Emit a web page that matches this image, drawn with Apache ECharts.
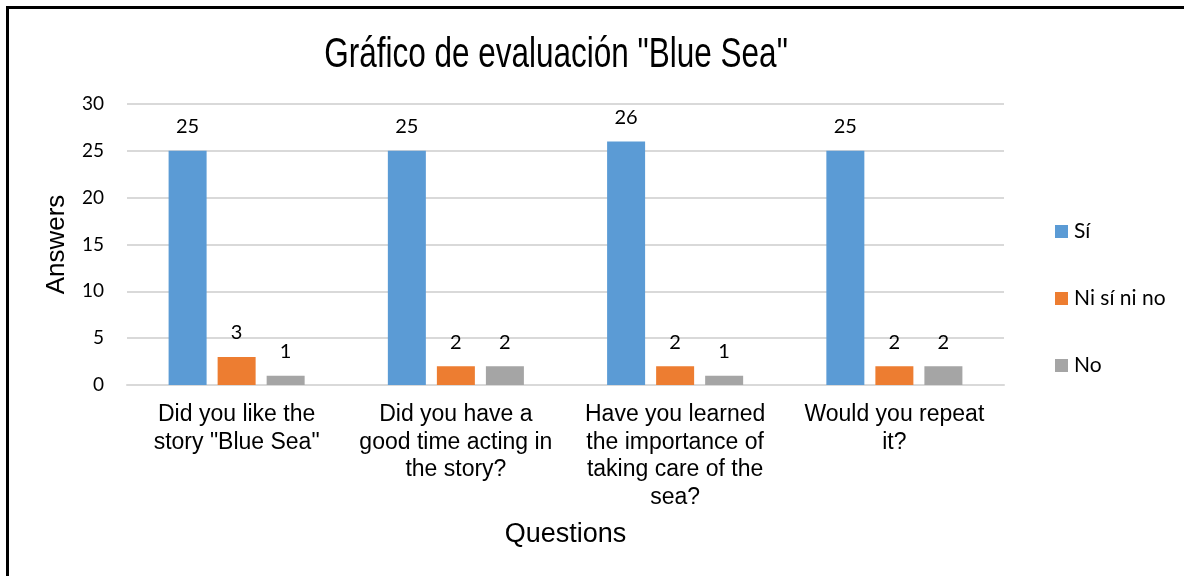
<!DOCTYPE html>
<html>
<head>
<meta charset="utf-8">
<script src="https://cdn.jsdelivr.net/npm/echarts@6/dist/echarts.min.js"></script>
<style>
html,body{margin:0;padding:0;background:#fff;}
#chart{width:1184px;height:576px;}
</style>
</head>
<body>
<div id="chart"></div>
<script>
const titleText = 'Gráfico de evaluación "Blue Sea"';
const categories = [
  'Did you like the\nstory "Blue Sea"',
  'Did you have a\ngood time acting in\nthe story?',
  'Have you learned\nthe importance of\ntaking care of the\nsea?',
  'Would you repeat\nit?'
];
const seriesNames = ['Sí', 'Ni sí ni no', 'No'];
const siValues = [25, 25, 26, 25];
const niValues = [3, 2, 2, 2];
const noValues = [1, 2, 1, 2];
const yAxisName = 'Answers';
const xAxisName = 'Questions';

const colors = ['#5B9BD5', '#ED7D31', '#A5A5A5'];
const numFont = 'Lato, "Open Sans", sans-serif';
const arial = '"Liberation Sans", Arial, sans-serif';

const chart = echarts.init(document.getElementById('chart'), null, {renderer: 'canvas'});

function barSeries(name, data, color) {
  return {
    name: name,
    type: 'bar',
    data: data,
    barWidth: 38,
    barGap: '29%',
    itemStyle: {color: color},
    label: {
      show: true,
      position: 'top',
      distance: 14,
      color: '#000',
      fontFamily: numFont,
      fontSize: 20
    },
    emphasis: {disabled: true}
  };
}

chart.setOption({
  animation: false,
  graphic: [{
    type: 'rect',
    silent: true,
    z: 100,
    shape: {x: 7.5, y: 7.5, width: 1300, height: 700},
    style: {fill: 'none', stroke: '#000', lineWidth: 3}
  }, {
    type: 'text',
    silent: true,
    x: 556,
    y: 76.5,
    scaleX: 0.75,
    style: {
      text: titleText,
      x: 0,
      y: 0,
      font: '42px "Liberation Sans", Arial, sans-serif',
      fill: '#000',
      textAlign: 'center',
      textVerticalAlign: 'bottom',
      align: 'center',
      verticalAlign: 'bottom'
    }
  }],
  legend: {
    orient: 'vertical',
    left: 1055,
    top: 221,
    padding: 0,
    itemWidth: 13,
    itemHeight: 13,
    itemGap: 46,
    icon: 'rect',
    textStyle: {
      fontFamily: numFont,
      fontSize: 21,
      lineHeight: 21,
      color: '#000',
      padding: [0, 0, 0, 1]
    },
    data: seriesNames
  },
  grid: {left: 127, top: 104, width: 877, height: 281, containLabel: false},
  xAxis: {
    type: 'category',
    data: categories,
    name: xAxisName,
    nameLocation: 'middle',
    nameGap: 136,
    nameTextStyle: {fontFamily: arial, fontSize: 27, color: '#000'},
    axisLine: {show: true, lineStyle: {color: '#D9D9D9', width: 2}},
    axisTick: {show: false},
    axisLabel: {
      interval: 0,
      margin: 16,
      fontFamily: arial,
      fontSize: 23,
      lineHeight: 27.5,
      color: '#000',
      align: 'center'
    }
  },
  yAxis: {
    type: 'value',
    min: 0,
    max: 30,
    interval: 5,
    name: yAxisName,
    nameLocation: 'middle',
    nameGap: 57,
    nameRotate: 90,
    nameTextStyle: {fontFamily: arial, fontSize: 26, color: '#000'},
    axisLine: {show: false},
    axisTick: {show: false},
    axisLabel: {margin: 23, fontFamily: numFont, fontSize: 19, color: '#000'},
    splitLine: {lineStyle: {color: '#D9D9D9', width: 2}}
  },
  series: [
    barSeries(seriesNames[0], siValues, colors[0]),
    barSeries(seriesNames[1], niValues, colors[1]),
    barSeries(seriesNames[2], noValues, colors[2])
  ]
});
</script>
</body>
</html>
